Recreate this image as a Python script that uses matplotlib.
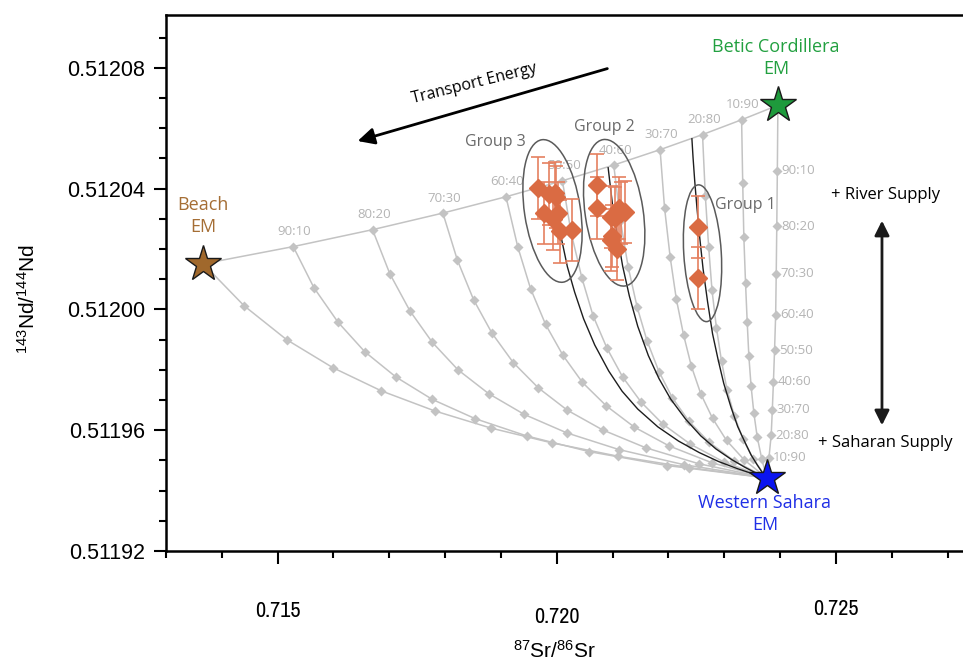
import matplotlib
matplotlib.use("Agg")
import matplotlib.pyplot as plt
from matplotlib.patches import Ellipse
from matplotlib.transforms import ScaledTranslation
from matplotlib.ticker import MultipleLocator, FixedLocator

plt.rcParams["font.family"] = ["Liberation Sans", "DejaVu Sans"]
plt.rcParams["mathtext.fontset"] = "custom"
plt.rcParams["mathtext.rm"] = "Archivo Narrow"
plt.rcParams["mathtext.it"] = "Archivo Narrow"
plt.rcParams["mathtext.bf"] = "Archivo Narrow"

# End members (87Sr/86Sr, 143Nd/144Nd)
beach_em = (0.71367, 0.5120151)
betic_em = (0.72396, 0.5120676)
sahara_em = (0.72376, 0.5119442)

# Beach - Betic mixing line (90:10 ... 10:90)
ratio_labels = ["90:10", "80:20", "70:30", "60:40", "50:50", "40:60", "30:70", "20:80", "10:90"]
top_sr = [0.71528, 0.71670, 0.71796, 0.71909, 0.72010, 0.72102, 0.72185, 0.72261, 0.72331]
top_nd = [0.5120208, 0.5120264, 0.5120319, 0.5120373, 0.5120426, 0.5120478, 0.5120529, 0.5120579, 0.5120628]

# Mixing curves towards the Western Sahara EM, one row per starting point
# (Beach EM, the nine Beach-Betic mixtures, Betic EM), 10 % steps
sahara_mix_sr = [
    [0.71440, 0.71516, 0.71599, 0.71686, 0.71781, 0.71882, 0.71991, 0.72109, 0.72237],
    [0.71565, 0.71608, 0.71656, 0.71712, 0.71777, 0.71854, 0.71946, 0.72058, 0.72197],
    [0.71701, 0.71737, 0.71777, 0.71823, 0.71878, 0.71942, 0.72018, 0.72111, 0.72227],
    [0.71822, 0.71851, 0.71884, 0.71922, 0.71967, 0.72019, 0.72082, 0.72159, 0.72254],
    [0.71930, 0.71953, 0.71980, 0.72011, 0.72046, 0.72089, 0.72139, 0.72201, 0.72278],
    [0.72026, 0.72045, 0.72065, 0.72090, 0.72118, 0.72151, 0.72190, 0.72239, 0.72299],
    [0.72114, 0.72128, 0.72144, 0.72162, 0.72183, 0.72207, 0.72237, 0.72273, 0.72318],
    [0.72193, 0.72203, 0.72214, 0.72227, 0.72241, 0.72258, 0.72279, 0.72304, 0.72336],
    [0.72266, 0.72272, 0.72278, 0.72286, 0.72295, 0.72305, 0.72318, 0.72333, 0.72352],
    [0.72333, 0.72335, 0.72338, 0.72341, 0.72344, 0.72348, 0.72353, 0.72359, 0.72367],
    [0.72395, 0.72394, 0.72393, 0.72392, 0.72390, 0.72388, 0.72386, 0.72384, 0.72380],
]
sahara_mix_nd = [
    [0.5120012, 0.5119900, 0.5119807, 0.5119730, 0.5119664, 0.5119607, 0.5119558, 0.5119514, 0.5119476],
    [0.5120072, 0.5119958, 0.5119860, 0.5119776, 0.5119702, 0.5119638, 0.5119581, 0.5119529, 0.5119483],
    [0.5120118, 0.5119995, 0.5119891, 0.5119800, 0.5119721, 0.5119652, 0.5119591, 0.5119536, 0.5119486],
    [0.5120163, 0.5120032, 0.5119921, 0.5119824, 0.5119740, 0.5119666, 0.5119601, 0.5119542, 0.5119489],
    [0.5120208, 0.5120069, 0.5119950, 0.5119848, 0.5119758, 0.5119680, 0.5119610, 0.5119548, 0.5119492],
    [0.5120251, 0.5120104, 0.5119979, 0.5119871, 0.5119776, 0.5119693, 0.5119620, 0.5119554, 0.5119495],
    [0.5120294, 0.5120139, 0.5120007, 0.5119894, 0.5119794, 0.5119707, 0.5119629, 0.5119560, 0.5119498],
    [0.5120336, 0.5120174, 0.5120035, 0.5119916, 0.5119812, 0.5119720, 0.5119639, 0.5119566, 0.5119501],
    [0.5120377, 0.5120207, 0.5120063, 0.5119938, 0.5119829, 0.5119733, 0.5119648, 0.5119572, 0.5119504],
    [0.5120418, 0.5120240, 0.5120089, 0.5119959, 0.5119845, 0.5119745, 0.5119656, 0.5119577, 0.5119506],
    [0.5120459, 0.5120275, 0.5120118, 0.5119983, 0.5119864, 0.5119760, 0.5119667, 0.5119584, 0.5119509],
]

# Best-fit mixing curves through the sample groups
fit_sr = [
    [0.71997, 0.72002, 0.72010, 0.72019, 0.72032, 0.72048, 0.72068, 0.72093, 0.72117, 0.72145,
     0.72181, 0.72218, 0.72255, 0.72290, 0.72323, 0.72352, 0.72376],
    [0.72092, 0.72096, 0.72101, 0.72109, 0.72118, 0.72130, 0.72145, 0.72164, 0.72183, 0.72204,
     0.72231, 0.72258, 0.72285, 0.72312, 0.72337, 0.72358, 0.72376],
    [0.72242, 0.72244, 0.72247, 0.72251, 0.72256, 0.72262, 0.72270, 0.72279, 0.72289, 0.72299,
     0.72312, 0.72324, 0.72337, 0.72348, 0.72359, 0.72368, 0.72376],
]
fit_nd = [
    [0.5120346, 0.5120290, 0.5120220, 0.5120141, 0.5120057, 0.5119969, 0.5119882, 0.5119796, 0.5119729,
     0.5119670, 0.5119611, 0.5119564, 0.5119526, 0.5119496, 0.5119473, 0.5119455, 0.5119442],
    [0.5120469, 0.5120406, 0.5120328, 0.5120239, 0.5120143, 0.5120044, 0.5119944, 0.5119847, 0.5119771,
     0.5119703, 0.5119636, 0.5119581, 0.5119538, 0.5119504, 0.5119477, 0.5119457, 0.5119442],
    [0.5120565, 0.5120504, 0.5120426, 0.5120337, 0.5120238, 0.5120134, 0.5120026, 0.5119919, 0.5119833,
     0.5119755, 0.5119676, 0.5119612, 0.5119560, 0.5119518, 0.5119485, 0.5119460, 0.5119442],
]

# Samples
g3_sr = [0.719658, 0.719861, 0.719968, 0.719986, 0.719777, 0.719932, 0.720027, 0.720052, 0.720273]
g3_nd = [0.5120402, 0.5120383, 0.5120384, 0.5120371, 0.5120318, 0.5120300, 0.5120318, 0.5120258, 0.5120263]
g2_sr = [0.720729, 0.720729, 0.720962, 0.721043, 0.721123, 0.721150, 0.721222, 0.720980, 0.720971, 0.721078]
g2_nd = [0.5120412, 0.5120336, 0.5120306, 0.5120303, 0.5120336, 0.5120320, 0.5120323, 0.5120242, 0.5120229, 0.5120199]
g1_sr = [0.722534, 0.722534]
g1_nd = [0.5120274, 0.5120103]
nd_err = 0.0000103

x_ticks = [0.715, 0.720, 0.725]
x_tick_labels = ["0.715", "0.720", "0.725"]
y_ticks = [0.51192, 0.51196, 0.51200, 0.51204, 0.51208]
y_tick_labels = ["0.51192", "0.51196", "0.51200", "0.51204", "0.51208"]

fig = plt.figure(figsize=(9.63, 6.6), dpi=100)
ax = fig.add_axes([0.1723, 0.1652, 0.8277, 0.8121])
ax.set_xlim(0.713, 0.727275)
ax.set_ylim(0.51192, 0.5120975)

gc = "#c3c3c3"
grid_kw = dict(color=gc, lw=1.1, marker="D", ms=5, mfc=gc, mec="none",
               markevery=list(range(1, 10)), zorder=1)
ax.plot([beach_em[0]] + top_sr + [betic_em[0]], [beach_em[1]] + top_nd + [betic_em[1]], **grid_kw)
starts = [beach_em] + list(zip(top_sr, top_nd)) + [betic_em]
for st, xs, ys in zip(starts, sahara_mix_sr, sahara_mix_nd):
    ax.plot([st[0]] + xs + [sahara_em[0]], [st[1]] + ys + [sahara_em[1]], **grid_kw)

lab_kw = dict(textcoords="offset points", fontsize=9.5, color="#b4b4b4", family="Open Sans")
for lab, x, y in zip(ratio_labels, top_sr, top_nd):
    ax.annotate(lab, (x, y), xytext=(1, 6), ha="center", va="bottom", **lab_kw)
for lab, x, y in zip(ratio_labels, sahara_mix_sr[-1], sahara_mix_nd[-1]):
    ax.annotate(lab, (x, y), xytext=(3, 0), ha="left", va="center", **lab_kw)

for xs, ys in zip(fit_sr, fit_nd):
    ax.plot(xs, ys, color="#1e1e1e", lw=1.0, zorder=2)


def group_ellipse(cx, cy, w_px, h_px, angle):
    tr = fig.dpi_scale_trans + ScaledTranslation(cx, cy, ax.transData)
    ax.add_patch(Ellipse((0, 0), w_px / 100, h_px / 100, angle=angle, transform=tr,
                         fill=False, ec="#5a5a5a", lw=1.1, zorder=3))


group_ellipse(0.719923, 0.5120326, 56, 144, 8.5)
group_ellipse(0.721028, 0.5120320, 58, 148, 8.5)
group_ellipse(0.722610, 0.5120186, 37.5, 137, 3.5)

for xs, ys in [(g3_sr, g3_nd), (g2_sr, g2_nd), (g1_sr, g1_nd)]:
    ax.errorbar(xs, ys, yerr=nd_err, fmt="D", ms=9, color="#DA6B43", mec="#DA6B43",
                ecolor="#E58060", elinewidth=1.2, capsize=5, capthick=1.2, zorder=4)

tf = dict(family="Open Sans", fontsize=11.5, color="#6a6a6a", ha="center", va="center")
ax.text(0.718894, 0.5120555, "Group 3", **tf)
ax.text(0.720846, 0.5120604, "Group 2", **tf)
ax.text(0.723371, 0.5120346, "Group 1", **tf)

for s, c in [(beach_em, "#A0682C"), (betic_em, "#1E9A3C"), (sahara_em, "#0A14F0")]:
    ax.plot(*s, marker="*", ms=27, mfc=c, mec="#1a1a1a", mew=1.0, zorder=6)
ef = dict(family="Open Sans", fontsize=13, ha="center", va="center", linespacing=1.25)
ax.text(0.713664, 0.5120310, "Beach\nEM", color="#A56E35", **ef)
ax.text(0.723926, 0.5120833, "Betic Cordillera\nEM", color="#22A040", **ef)
ax.text(0.723727, 0.5119323, "Western Sahara\nEM", color="#1F2FE6", **ef)

ax.annotate("", xy=(0.716386, 0.5120555), xytext=(0.720953, 0.5120800),
            arrowprops=dict(arrowstyle="-|>", lw=2, color="black", mutation_scale=25))
ax.text(0.718518, 0.5120748, "Transport Energy", rotation=14, family="Open Sans", fontsize=11.5,
        ha="center", va="center")
ax.annotate("", xy=(0.725824, 0.5120303), xytext=(0.725824, 0.5119607),
            arrowprops=dict(arrowstyle="<|-|>", lw=2, color="#1a1a1a", mutation_scale=22))
ax.text(0.725896, 0.5120379, "+ River Supply", family="Open Sans", fontsize=12, ha="center", va="center")
ax.text(0.725878, 0.5119558, "+ Saharan Supply", family="Open Sans", fontsize=12, ha="center", va="center")

for sp in ["left", "top", "bottom"]:
    ax.spines[sp].set_linewidth(1.8)
ax.spines["right"].set_visible(False)
ax.xaxis.set_major_locator(FixedLocator(x_ticks))
ax.xaxis.set_minor_locator(MultipleLocator(0.001))
ax.yaxis.set_major_locator(FixedLocator(y_ticks))
ax.yaxis.set_minor_locator(MultipleLocator(0.00001))
ax.set_xticklabels(x_tick_labels, family="Archivo Narrow", fontsize=16)
ax.set_yticklabels(y_tick_labels, fontsize=15.5)
ax.tick_params(which="major", direction="out", length=9, width=1.5)
ax.tick_params(which="minor", direction="out", length=5, width=1.5)
ax.tick_params(axis="x", which="major", pad=27)
ax.tick_params(axis="y", which="major", pad=6)
for lbl, dy in zip(ax.get_xticklabels(), [0, -6, 2]):
    lbl.set_transform(lbl.get_transform() + ScaledTranslation(0, dy / 100, fig.dpi_scale_trans))
ax.set_xlabel(r"$\mathregular{^{87}Sr/^{86}Sr}$", fontsize=15)
ax.set_ylabel(r"$\mathregular{^{143}Nd/^{144}Nd}$", fontsize=15)
ax.xaxis.set_label_coords(0.488, -0.165)
ax.yaxis.set_label_coords(-0.16, 0.47)

fig.savefig("out.png", dpi=100)
